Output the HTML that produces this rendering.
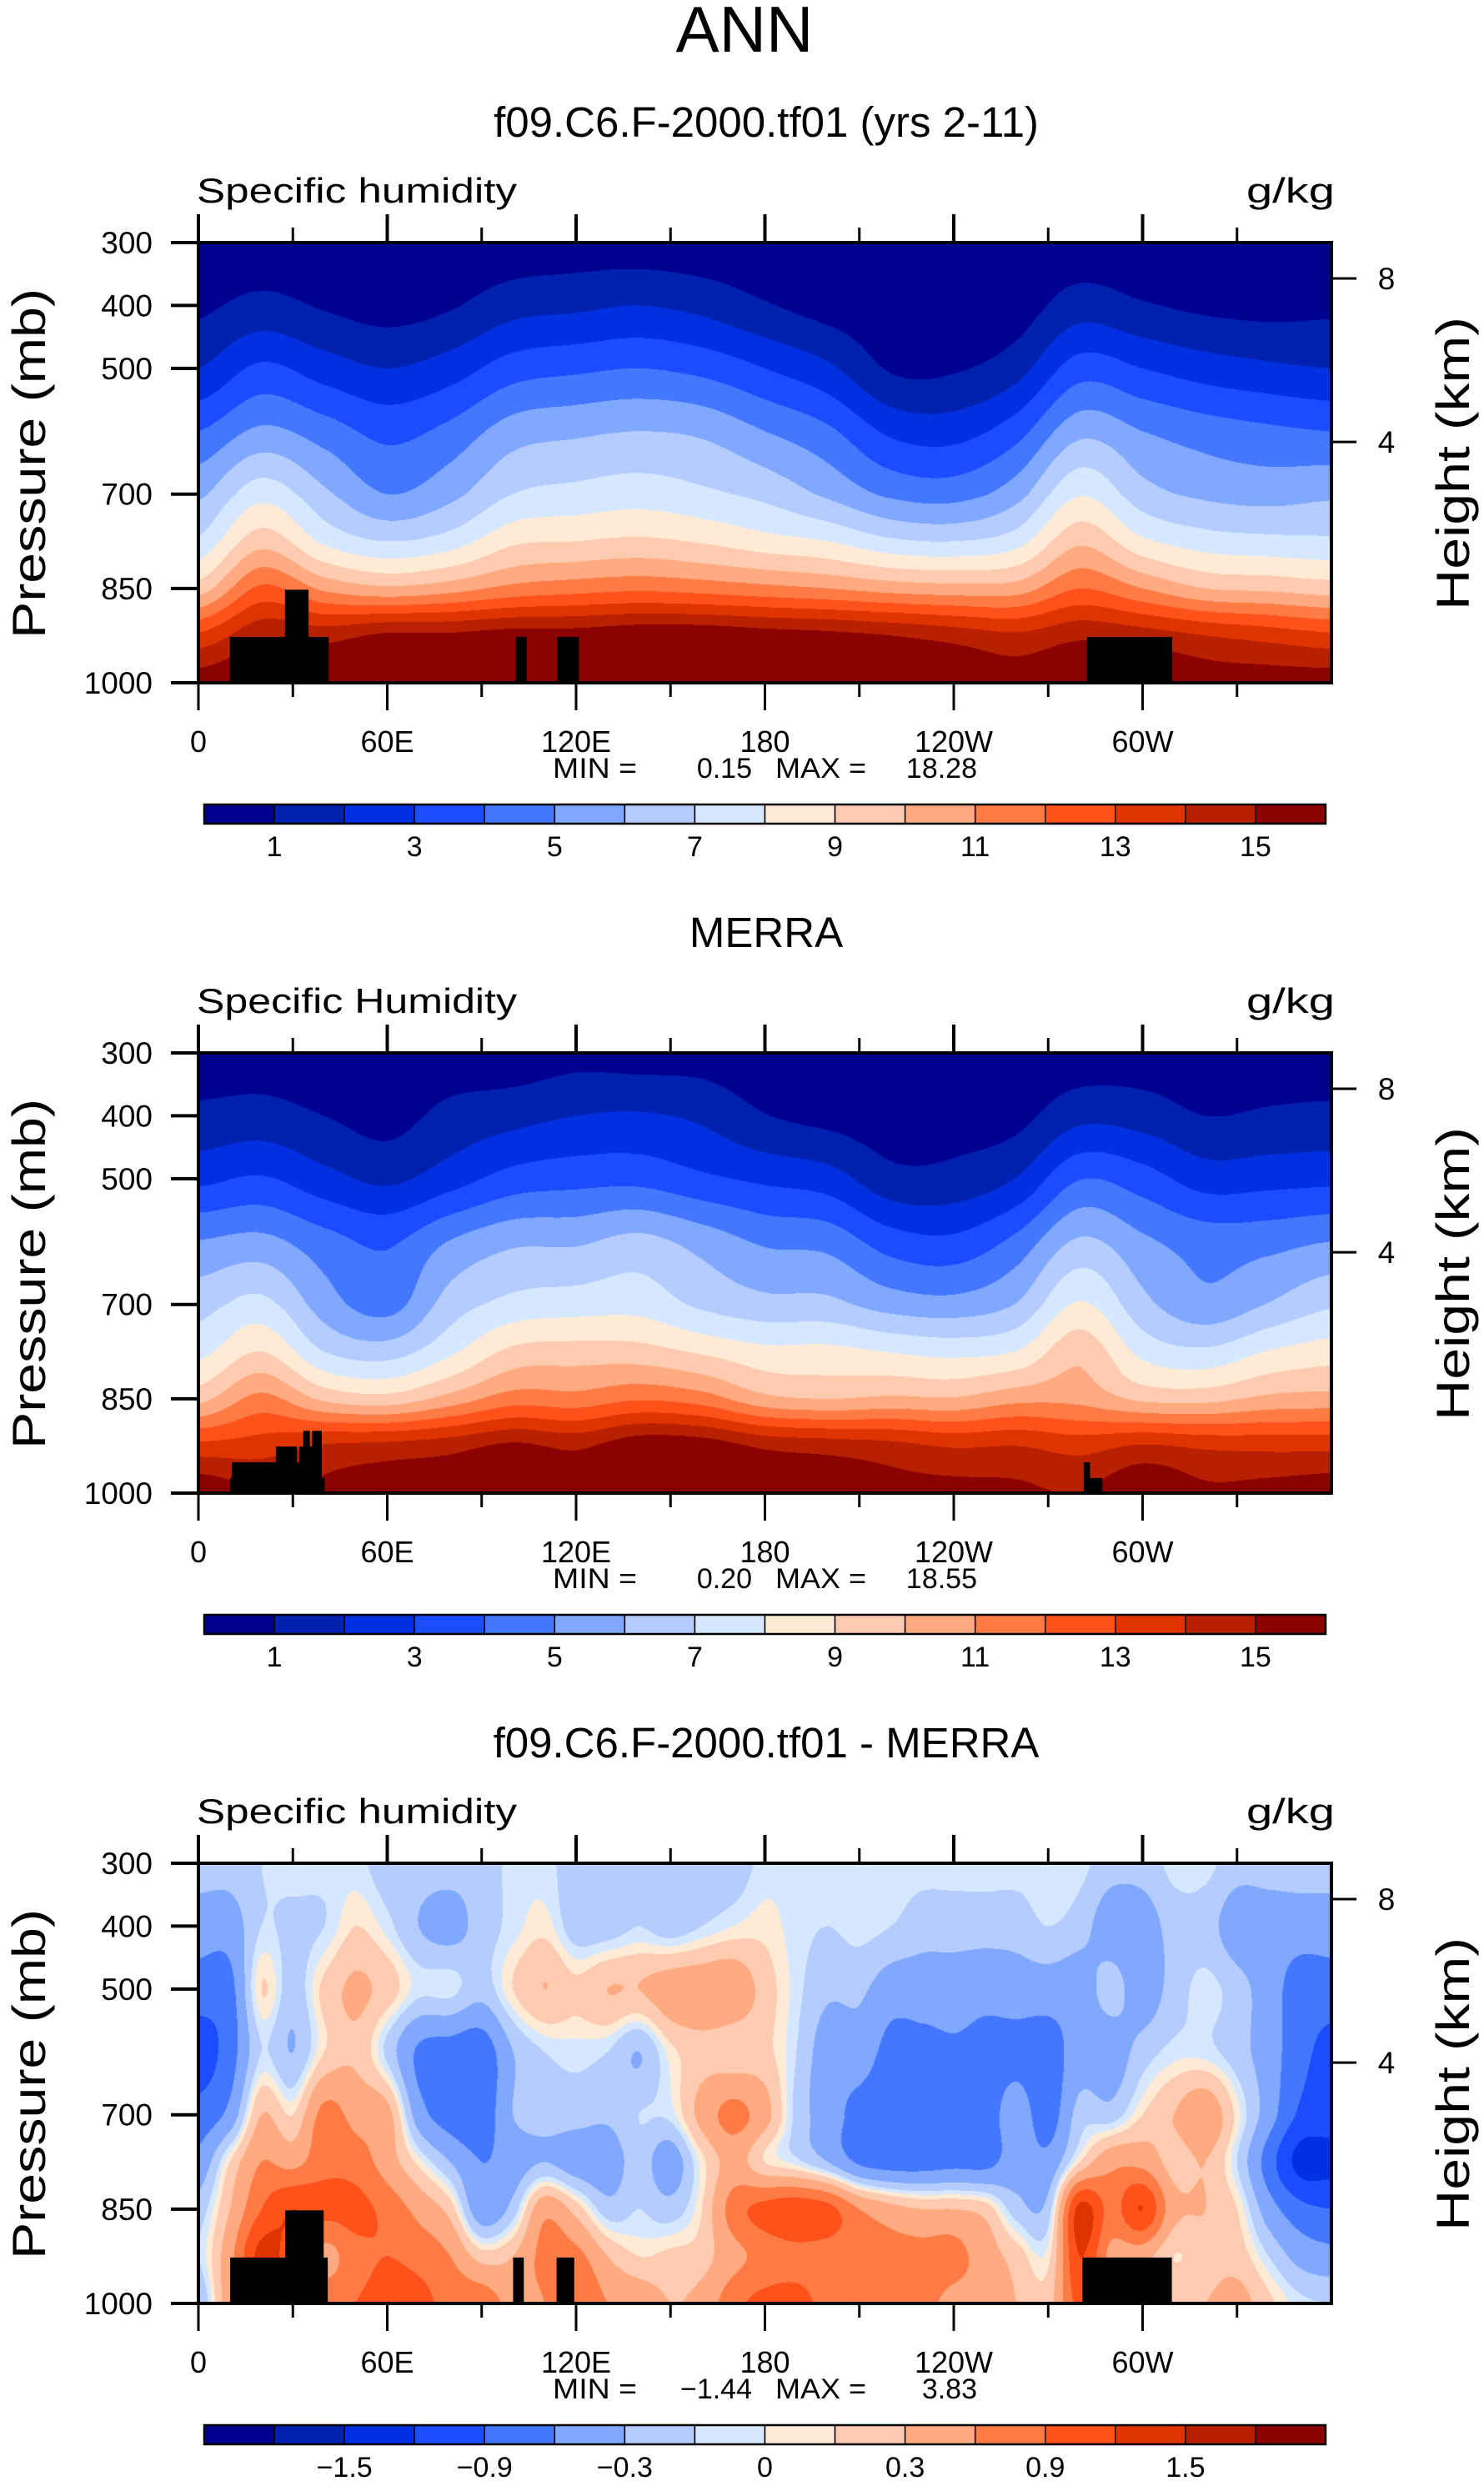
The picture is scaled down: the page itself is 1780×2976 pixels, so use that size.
<!DOCTYPE html>
<html><head><meta charset="utf-8"><title>ANN specific humidity</title>
<style>
html,body{margin:0;padding:0;background:#fff;}
#root{position:relative;width:1780px;height:2976px;overflow:hidden;background:#fff;}
canvas{position:absolute;}
#overlay{position:absolute;left:0;top:0;}
text{font-family:"Liberation Sans",sans-serif;fill:#000;}
</style></head>
<body>
<div id="root">
<canvas id="c0" width="1359" height="528" style="left:238px;top:291px"></canvas>
<canvas id="c1" width="1359" height="528" style="left:238px;top:1263px"></canvas>
<canvas id="c2" width="1359" height="528" style="left:238px;top:2235px"></canvas>
<svg id="overlay" width="1780" height="2976" xmlns="http://www.w3.org/2000/svg"></svg>
</div>
<script>
// ---------- shared data ----------
const presLevels = [300,400,500,600,700,775,850,925,1000];
const lons20 = [0,20,40,60,80,100,120,140,160,180,200,220,240,260,280,300,320,340,360];
const lons10 = [0,10,20,30,40,50,60,70,80,90,100,110,120,130,140,150,160,170,180,190,200,210,220,230,240,250,260,270,280,290,300,310,320,330,340,350,360];
const xTickLons = [0,60,120,180,240,300];
const xTickLabels = ["0","60E","120E","180","120W","60W"];
const xMinorLons = [30,90,150,210,270,330];
const yTickPres = [300,400,500,700,850,1000];
const yTickLabels = ["300","400","500","700","850","1000"];
const heightTickPres = [357,617];
const heightTickLabels = ["8","4"];
const palette = ["#000090","#0020b0","#0030e0","#1a4dff","#4477ff","#80a8ff","#b4ccff","#d6e8ff","#ffead6","#ffcbb0","#ffaa80","#ff7b45","#ff521a","#e03400","#b82000","#8b0000"];
const qLevels = [1,2,3,4,5,6,7,8,9,10,11,12,13,14,15];
const qLabels = ["1","","3","","5","","7","","9","","11","","13","","15"];
const dLevels = [-1.8,-1.5,-1.2,-0.9,-0.6,-0.3,-0.1,0,0.1,0.3,0.6,0.9,1.2,1.5,1.8];
const dLabels = ["","−1.5","","−0.9","","−0.3","","0","","0.3","","0.9","","1.5",""];

// ---------- model (f09.C6.F-2000.tf01) specific humidity g/kg, lon every 20 ----------
const model300 = [0.3,0.4,0.3,0.2,0.3,0.4,0.5,0.5,0.4,0.3,0.2,0.2,0.2,0.3,0.4,0.3,0.3,0.3,0.3];
const model400 = [0.8,1.3,0.9,0.6,0.9,1.6,1.8,2.0,1.7,1.1,0.6,0.4,0.4,0.5,1.5,1.1,0.8,0.7,0.8];
const model500 = [2.0,3.2,2.5,2.0,2.5,3.5,3.8,4.0,3.7,3.0,2.2,0.9,0.9,1.6,3.5,3.0,2.5,2.2,2.0];
const model600 = [4.0,5.2,4.5,3.7,4.3,5.5,5.8,6.0,5.8,5.0,4.2,2.8,2.6,3.6,5.7,5.0,4.5,4.2,4.0];
const model700 = [5.8,7.6,6.2,5.0,5.7,7.0,7.3,7.5,7.2,6.7,5.8,4.8,4.6,5.6,7.9,6.4,5.8,5.6,5.8];
const model775 = [7.2,9.6,7.8,7.0,7.5,8.8,9.0,9.2,8.9,8.4,8.0,7.2,7.0,7.6,9.8,8.2,7.5,7.3,7.2];
const model850 = [9.5,12.2,10.8,10.2,10.6,11.3,11.6,11.8,11.6,11.3,11.0,10.6,10.4,10.5,12.0,11.0,10.0,9.8,9.5];
const model925 = [13.2,14.8,14.6,15.2,15.2,15.5,15.5,15.8,15.8,15.5,15.3,15.0,14.6,14.2,14.8,14.5,14.0,13.6,13.2];
const model1000 = [15.5,16.0,16.0,16.5,16.5,17.0,17.0,17.5,17.5,17.0,16.5,16.0,15.8,15.5,16.0,16.0,15.5,15.5,15.5];

// ---------- MERRA specific humidity g/kg, lon every 20 ----------
const merra300 = [0.5,0.5,0.35,0.4,0.5,0.45,0.7,0.6,0.6,0.35,0.25,0.25,0.25,0.35,0.45,0.5,0.35,0.5,0.5];
const merra400 = [1.25,1.4,1.0,0.65,1.3,1.65,2.0,2.1,1.8,1.05,0.7,0.5,0.6,0.7,1.7,1.55,1.0,1.15,1.25];
const merra500 = [2.75,3.1,2.35,1.8,2.55,3.4,3.65,3.7,3.2,2.8,2.45,1.35,1.35,2.05,3.95,3.45,2.55,2.65,2.75];
const merra600 = [5.05,5.3,4.4,3.85,5.05,5.8,5.85,6.3,5.6,4.85,4.65,3.5,3.25,4.3,6.15,5.2,4.55,4.65,5.0];
const merra700 = [6.6,7.3,5.5,4.6,6.45,7.3,7.5,7.6,6.8,6.3,6.25,5.55,5.35,6.05,8.1,6.3,5.3,6.05,6.85];
const merra775 = [7.7,9.0,7.0,6.55,7.8,9.25,9.45,9.4,8.85,8.3,8.3,7.95,7.7,8.05,9.7,7.7,7.2,8.05,8.5];
const merra850 = [9.7,11.3,9.8,9.4,10.4,11.5,11.4,11.9,11.5,10.3,10.0,10.2,10.1,10.7,10.7,9.8,9.7,10.25,10.4];
const merra925 = [13.3,13.5,14.1,14.3,14.6,15.2,14.8,15.7,15.6,14.8,14.55,14.3,13.9,14.0,13.6,14.1,13.8,13.7,13.7];
const merra1000 = [15.8,15.0,15.2,15.5,15.7,16.5,16.1,17.0,17.1,16.0,15.7,15.3,15.3,15.2,15.0,15.8,15.2,15.35,15.6];

// ---------- difference (model - MERRA) g/kg, lon every 10 ----------
const diff300 = [-0.2,-0.2,-0.1,-0.05,-0.05,-0.05,-0.2,-0.2,-0.2,-0.2,-0.05,-0.05,-0.2,-0.2,-0.1,-0.2,-0.2,-0.2,-0.05,-0.05,-0.05,-0.05,-0.05,-0.05,-0.05,-0.05,-0.05,-0.05,-0.05,-0.2,-0.2,-0.05,-0.05,-0.2,-0.2,-0.2,-0.2];
const diff400 = [-0.45,-0.45,-0.1,-0.15,-0.1,0.1,-0.05,-0.3,-0.4,-0.2,-0.05,0.05,-0.2,-0.2,-0.1,-0.2,-0.1,0.0,0.05,-0.05,-0.1,-0.05,-0.1,-0.2,-0.2,-0.2,-0.2,-0.1,-0.2,-0.45,-0.45,-0.2,-0.2,-0.45,-0.45,-0.45,-0.45];
const diff500 = [-0.75,-0.7,0.1,-0.2,0.15,0.35,0.2,-0.05,-0.05,-0.2,0.1,0.3,0.15,0.3,0.3,0.45,0.5,0.5,0.2,-0.05,-0.25,-0.25,-0.45,-0.45,-0.45,-0.5,-0.45,-0.45,-0.45,-0.2,-0.45,-0.2,-0.05,-0.2,-0.45,-0.75,-0.75];
const diff600 = [-1.05,-0.75,-0.1,-0.3,0.1,0.25,-0.15,-0.65,-0.75,-0.8,-0.3,-0.1,-0.05,-0.1,-0.3,0.05,0.2,0.15,0.15,-0.1,-0.45,-0.45,-0.7,-0.7,-0.65,-0.7,-0.7,-0.75,-0.45,-0.45,-0.2,-0.05,-0.05,-0.2,-0.45,-0.8,-1.0];
const diff700 = [-0.8,-0.5,0.3,0.1,0.7,0.5,0.4,-0.45,-0.75,-0.8,-0.3,-0.2,-0.2,-0.25,-0.1,-0.05,0.4,0.7,0.4,-0.15,-0.45,-0.7,-0.75,-0.75,-0.75,-0.75,-0.45,-0.75,-0.2,-0.2,0.1,0.3,0.5,0.05,-0.45,-0.95,-1.05];
const diff775 = [-0.5,0.1,0.6,0.5,0.8,0.75,0.45,0.05,-0.3,-0.6,-0.45,-0.3,-0.45,-0.45,-0.2,-0.45,0.05,0.4,0.1,-0.05,-0.3,-0.65,-0.75,-0.75,-0.7,-0.7,-0.45,-0.5,0.1,0.5,0.5,0.2,0.3,-0.1,-0.75,-1.3,-1.3];
const diff850 = [-0.2,0.3,0.9,1.2,1.0,1.0,0.8,0.5,0.2,-0.5,-0.2,0.5,0.2,-0.2,-0.1,-0.2,0.1,0.75,1.0,1.1,1.0,0.6,0.4,0.3,0.3,0.2,-0.2,-0.2,1.3,0.8,1.2,0.4,0.3,0.1,-0.45,-0.8,-0.9];
const diff925 = [-0.1,0.5,1.3,1.0,0.5,0.8,0.9,0.8,0.6,0.2,0.3,0.7,0.7,0.3,0.1,0.15,0.2,0.5,0.7,0.8,0.75,0.7,0.7,0.7,0.7,0.45,0.2,0.05,1.2,0.5,0.4,0.1,0.2,0.2,-0.1,-0.4,-0.5];
const diff1000 = [-0.3,0.5,1.0,1.0,0.8,0.9,1.0,1.0,0.8,0.8,0.5,0.6,0.9,0.6,0.5,0.3,0.4,0.8,1.0,1.0,0.8,0.7,0.7,0.7,0.5,0.45,0.3,0.2,1.0,0.5,0.2,0.3,0.3,0.4,0.15,-0.05,-0.1];

// ---------- topography masks [lonStart, lonEnd, topPressure] ----------
const modelTopo = [[10,41.4,927],[27.5,35,852],[100.8,104.3,927],[114,120.9,927],[282.3,309.4,927]];
const merraTopo = [[10.1,40.1,976],[10.6,39.2,951],[24.6,31.3,926],[32,39.2,926],[33.3,35.4,901],[36.1,39.2,901],[281.3,283.3,951],[283.3,287.2,976]];
const diffTopo = [[10.1,41.1,927],[27.6,39.8,852],[100,103.4,927],[113.8,119.4,927],[280.9,309.3,927]];

const panelTitles = ["f09.C6.F-2000.tf01 (yrs 2-11)","MERRA","f09.C6.F-2000.tf01 - MERRA"];
const panelLeftLabels = ["Specific humidity","Specific Humidity","Specific humidity"];
const minVals = ["0.15","0.20","\u22121.44"];
const maxVals = ["18.28","18.55","3.83"];

// ---------- geometry ----------
const PX = 238, PW = 1359, PH = 528, PTOP = 291, DY = 972;
function xOf(lon){ return PX + lon / 360 * PW; }
function yOf(p, off){ return PTOP + off + (p - 300) / 700 * PH; }

// ---------- contour rendering ----------
function cr(p0,p1,p2,p3,t){
  return p1 + 0.5*t*(p2-p0 + t*(2*p0-5*p1+4*p2-p3 + t*(3*(p1-p2)+p3-p0)));
}
function renderField(canvasId, lons, rows, levels){
  const cv = document.getElementById(canvasId);
  const ctx = cv.getContext('2d');
  const img = ctx.createImageData(PW, PH);
  const nL = lons.length, nP = presLevels.length;
  const rgb = palette.map(h => [parseInt(h.substr(1,2),16),parseInt(h.substr(3,2),16),parseInt(h.substr(5,2),16)]);
  const colIdx = new Array(PW), colT = new Array(PW);
  for (let x=0;x<PW;x++){
    const lon = (x+0.5)/PW*360;
    let k = 0; while (k < nL-2 && lons[k+1] <= lon) k++;
    colIdx[x]=k; colT[x]=(lon-lons[k])/(lons[k+1]-lons[k]);
  }
  const cl = (i,n)=> Math.max(0,Math.min(n-1,i));
  for (let y=0;y<PH;y++){
    const p = 300 + (y+0.5)/PH*700;
    let j = 0; while (j < nP-2 && presLevels[j+1] <= p) j++;
    const tp = (p-presLevels[j])/(presLevels[j+1]-presLevels[j]);
    const r0 = rows[cl(j-1,nP)], r1 = rows[j], r2 = rows[cl(j+1,nP)], r3 = rows[cl(j+2,nP)];
    for (let x=0;x<PW;x++){
      const k = colIdx[x], t = colT[x];
      const a = cl(k-1,nL), b=k, c=cl(k+1,nL), d=cl(k+2,nL);
      const v0 = cr(r0[a],r0[b],r0[c],r0[d],t);
      const v1 = cr(r1[a],r1[b],r1[c],r1[d],t);
      const v2 = cr(r2[a],r2[b],r2[c],r2[d],t);
      const v3 = cr(r3[a],r3[b],r3[c],r3[d],t);
      const v = cr(v0,v1,v2,v3,tp);
      let ci = 0; while (ci < levels.length && v >= levels[ci]) ci++;
      const col = rgb[ci]; const o = (y*PW+x)*4;
      img.data[o]=col[0]; img.data[o+1]=col[1]; img.data[o+2]=col[2]; img.data[o+3]=255;
    }
  }
  ctx.putImageData(img,0,0);
}
renderField('c0', lons20, [model300,model400,model500,model600,model700,model775,model850,model925,model1000], qLevels);
renderField('c1', lons20, [merra300,merra400,merra500,merra600,merra700,merra775,merra850,merra925,merra1000], qLevels);
renderField('c2', lons10, [diff300,diff400,diff500,diff600,diff700,diff775,diff850,diff925,diff1000], dLevels);

// ---------- SVG overlay ----------
const svg = document.getElementById('overlay');
const NS = "http://www.w3.org/2000/svg";
function mk(tag, attrs, parent){
  const e = document.createElementNS(NS, tag);
  for (const k in attrs) e.setAttribute(k, attrs[k]);
  (parent||svg).appendChild(e);
  return e;
}
function txt(str, attrs, parent){
  const e = mk('text', attrs, parent);
  e.textContent = str;
  return e;
}

const ann = txt("ANN", {x:893, y:62, "font-size":78, "text-anchor":"middle", fill:"#222"});



for (let pi=0; pi<3; pi++){
  const off = pi*DY;
  const g = mk('g', {});
  
  
  const topo = [modelTopo, merraTopo, diffTopo][pi];
  for (const b of topo){
    const r = mk('rect', {x:xOf(b[0]), y:yOf(b[2],off), width:xOf(b[1])-xOf(b[0]), height:yOf(1000,off)-yOf(b[2],off), fill:"#000"}, g);
    
    
  }
  const fr = mk('rect', {x:PX, y:PTOP+off, width:PW, height:PH, fill:"none", stroke:"#000", "stroke-width":4}, g);
  
  

  const t = txt(panelTitles[pi], {x:919, y:164+off, "font-size":51, "text-anchor":"middle"}, g);
  
  
  const ll = txt(panelLeftLabels[pi], {x:236, y:243+off, "font-size":42, textLength:384, lengthAdjust:"spacingAndGlyphs"}, g);
  
  
  const ul = txt("g/kg", {x:1495, y:243+off, "font-size":42, textLength:106, lengthAdjust:"spacingAndGlyphs"}, g);
  
  

  for (let i=0;i<yTickPres.length;i++){
    const y = yOf(yTickPres[i], off);
    const tk = mk('line', {x1:205, x2:PX, y1:y, y2:y, stroke:"#000", "stroke-width":4}, g);
    
    
    const lb = txt(yTickLabels[i], {x:183, y:y+13, "font-size":37, "text-anchor":"end"}, g);
    
    
  }
  for (let i=0;i<heightTickPres.length;i++){
    const y = yOf(heightTickPres[i], off);
    const tk = mk('line', {x1:PX+PW, x2:PX+PW+30, y1:y, y2:y, stroke:"#000", "stroke-width":3}, g);
    
    
    const lb = txt(heightTickLabels[i], {x:1663, y:y+13, "font-size":37, "text-anchor":"middle"}, g);
    
    
  }
  for (let i=0;i<xTickLons.length;i++){
    const x = xOf(xTickLons[i]);
    const tt = mk('line', {x1:x, x2:x, y1:PTOP+off-34, y2:PTOP+off, stroke:"#000", "stroke-width":4}, g);
    
    
    const tb = mk('line', {x1:x, x2:x, y1:PTOP+off+PH, y2:PTOP+off+PH+33, stroke:"#000", "stroke-width":3}, g);
    
    
    const lb = txt(xTickLabels[i], {x:x, y:902+off, "font-size":36, "text-anchor":"middle"}, g);
    
    
  }
  for (let i=0;i<xMinorLons.length;i++){
    const x = xOf(xMinorLons[i]);
    const tt = mk('line', {x1:x, x2:x, y1:PTOP+off-18, y2:PTOP+off, stroke:"#000", "stroke-width":3}, g);
    
    
    const tb = mk('line', {x1:x, x2:x, y1:PTOP+off+PH, y2:PTOP+off+PH+17, stroke:"#000", "stroke-width":3}, g);
    
    
  }
  const pt = txt("Pressure (mb)", {x:0, y:0, "font-size":56, "text-anchor":"middle", textLength:420, lengthAdjust:"spacingAndGlyphs", transform:"translate(54," + (556+off) + ") rotate(-90)"}, g);
  
  
  const ht = txt("Height (km)", {x:0, y:0, "font-size":56, "text-anchor":"middle", textLength:352, lengthAdjust:"spacingAndGlyphs", transform:"translate(1762," + (556+off) + ") rotate(-90)"}, g);
  
  
  const mn = txt("MIN =", {x:663, y:933+off, "font-size":34, textLength:101, lengthAdjust:"spacingAndGlyphs"}, g);
  
  
  const mv = txt(minVals[pi], {x:902, y:933+off, "font-size":34, "text-anchor":"end"}, g);
  
  
  const mx = txt("MAX =", {x:930, y:933+off, "font-size":34, textLength:109, lengthAdjust:"spacingAndGlyphs"}, g);
  
  
  const xv = txt(maxVals[pi], {x:1172, y:933+off, "font-size":34, "text-anchor":"end"}, g);
  
  
  const cb = mk('g', {}, g);
  
  
  const cbx = 245, cbw = 1345, cby = 965+off, cbh = 23, bw = cbw/16;
  for (let i=0;i<16;i++){
    const r = mk('rect', {x:cbx+i*bw, y:cby, width:bw, height:cbh, fill:palette[i], stroke:"#000", "stroke-width":1.5}, cb);
    
    
  }
  mk('rect', {x:cbx, y:cby, width:cbw, height:cbh, fill:"none", stroke:"#000", "stroke-width":2.5}, cb);
  const labs = pi<2 ? qLabels : dLabels;
  for (let i=0;i<labs.length;i++){
    if (!labs[i]) continue;
    const lb = txt(labs[i], {x:cbx+(i+1)*bw, y:1027+off, "font-size":34, "text-anchor":"middle"}, cb);
    
    
  }
}
</script>
</body></html>
